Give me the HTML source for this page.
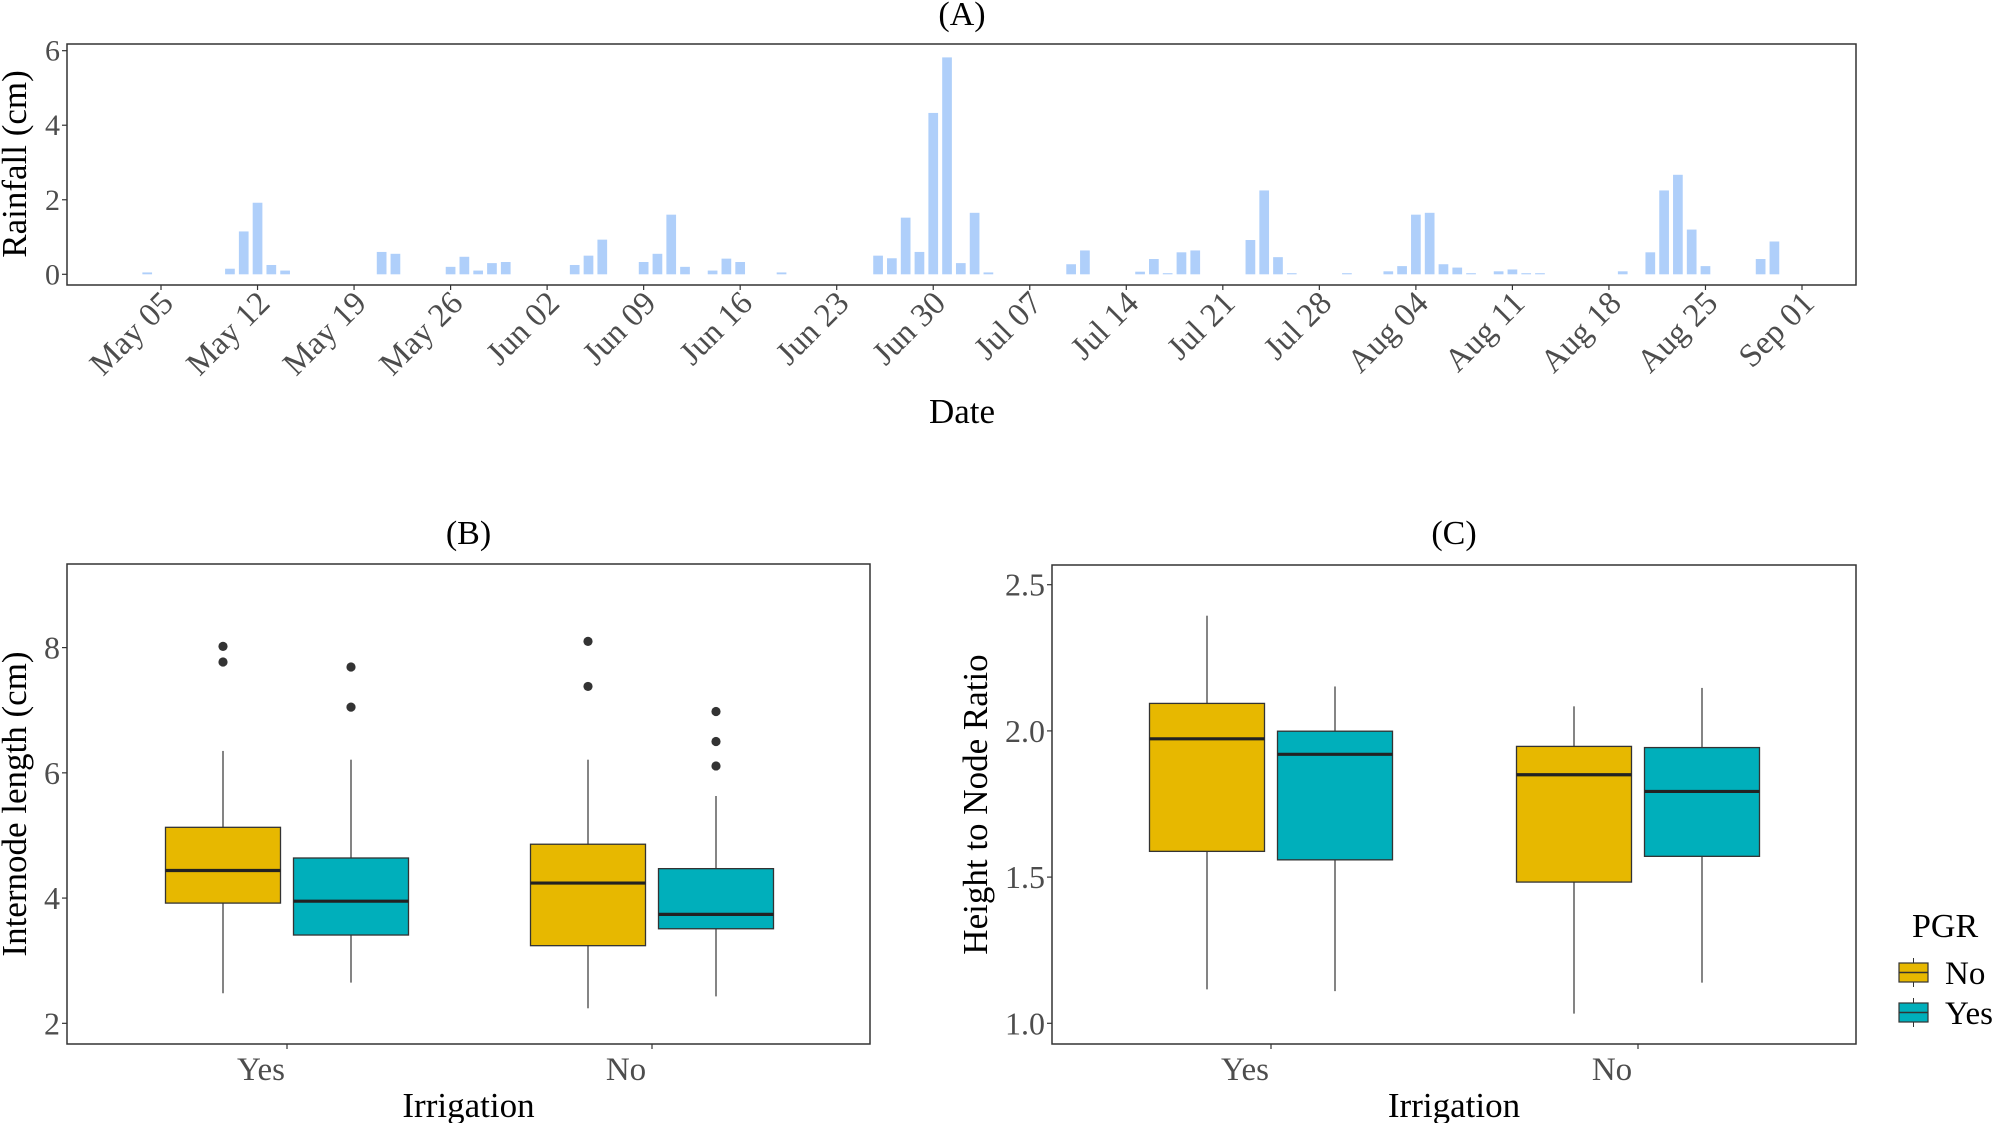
<!DOCTYPE html>
<html><head><meta charset="utf-8"><style>
body{margin:0;background:#fff}
svg{display:block;font-family:"Liberation Serif",serif}
</style></head><body>
<svg id="fig" width="2000" height="1123" viewBox="0 0 2000 1123" xmlns="http://www.w3.org/2000/svg">
<rect width="2000" height="1123" fill="#fff"/>
<g id="pa"></g>
<g id="pb"></g>
<g id="pc"></g>
<g id="leg"></g>
</svg>
<script>
// Panel A data
const rainDates = ["05-04","05-10","05-11","05-12","05-13","05-14","05-21","05-22","05-26","05-27","05-28","05-29","05-30","06-04","06-05","06-06","06-09","06-10","06-11","06-12","06-14","06-15","06-16","06-19","06-26","06-27","06-28","06-29","06-30","07-01","07-02","07-03","07-04","07-10","07-11","07-15","07-16","07-17","07-18","07-19","07-23","07-24","07-25","07-26","07-30","08-02","08-03","08-04","08-05","08-06","08-07","08-08","08-10","08-11","08-12","08-13","08-19","08-21","08-22","08-23","08-24","08-25","08-29","08-30"];
const rainValues = [0.05,0.15,1.15,1.92,0.25,0.1,0.6,0.55,0.2,0.47,0.1,0.3,0.33,0.25,0.5,0.93,0.33,0.55,1.6,0.2,0.1,0.42,0.33,0.05,0.5,0.43,1.52,0.6,4.33,5.82,0.3,1.65,0.05,0.27,0.64,0.07,0.41,0.03,0.59,0.64,0.92,2.25,0.46,0.03,0.03,0.08,0.22,1.6,1.65,0.27,0.18,0.03,0.08,0.13,0.03,0.03,0.08,0.59,2.25,2.67,1.2,0.22,0.41,0.88];
const rainTickLabels = ["May 05","May 12","May 19","May 26","Jun 02","Jun 09","Jun 16","Jun 23","Jun 30","Jul 07","Jul 14","Jul 21","Jul 28","Aug 04","Aug 11","Aug 18","Aug 25","Sep 01"];
const rainYTicks = [0,2,4,6];
// Panel B data (internode length)
const groups = ["Yes","No"];
const pgrLevels = ["No","Yes"];
const bLow = [[2.48,2.65],[2.24,2.43]];
const bQ1 = [[3.92,3.41],[3.24,3.51]];
const bMed = [[4.44,3.95],[4.24,3.74]];
const bQ3 = [[5.13,4.64],[4.86,4.47]];
const bHigh = [[6.35,6.21],[6.21,5.63]];
const bOut = [[[8.02,7.77],[7.69,7.05]],[[8.1,7.38],[6.98,6.5,6.11]]];
const bYTicks = [2,4,6,8];
// Panel C data (height to node ratio)
const cLow = [[1.116,1.110],[1.033,1.139]];
const cQ1 = [[1.588,1.559],[1.483,1.571]];
const cMed = [[1.973,1.920],[1.850,1.793]];
const cQ3 = [[2.094,1.999],[1.947,1.943]];
const cHigh = [[2.394,2.152],[2.084,2.147]];
const cYTicks = ["1.0","1.5","2.0","2.5"];

const NS="http://www.w3.org/2000/svg";
const colors=["#E7B800","#00AFBB"];
function mk(parent,tag,attrs,text){const e=document.createElementNS(NS,tag);for(const k in attrs)e.setAttribute(k,attrs[k]);if(text!==undefined)e.textContent=text;parent.appendChild(e);return e;}

// ---------- Panel A ----------
const pa=document.getElementById('pa');
const A={l:67,r:1856,t:44,b:285};
const dayPx=(1802-161)/119;
function dayOf(s){const p=s.split('-');const d=new Date(Date.UTC(2020,+p[0]-1,+p[1]));return (d-Date.UTC(2020,4,5))/86400000;}
const ax=d=>161+d*dayPx;
const ay=v=>274.3-v*37.27;
rainValues.forEach((v,i)=>{
  const x=ax(dayOf(rainDates[i]));
  const r=mk(pa,'rect',{x:x-4.85,y:ay(v),width:9.7,height:Math.max(ay(0)-ay(v),0.5),fill:'#AFCFFA'});
  
  
});
mk(pa,'rect',{x:A.l,y:A.t,width:A.r-A.l,height:A.b-A.t,fill:'none',stroke:'#333','stroke-width':1.5});
rainYTicks.forEach(v=>{
  const y=ay(v);
  mk(pa,'line',{x1:A.l-5,x2:A.l,y1:y,y2:y,stroke:'#333','stroke-width':1.2});
  const t=mk(pa,'text',{x:A.l-7,y:y+10,'text-anchor':'end','font-size':30,fill:'#4d4d4d'},v);
  
  
});
rainTickLabels.forEach((lab,i)=>{
  const x=ax(i*7);
  mk(pa,'line',{x1:x,x2:x,y1:A.b,y2:A.b+5,stroke:'#333','stroke-width':1.2});
  const t=mk(pa,'text',{x:x+14,y:A.b+20,'text-anchor':'end','font-size':33,fill:'#4d4d4d',transform:`rotate(-45 ${x+14} ${A.b+20})`},lab);
  
  
});
let t;
t=mk(pa,'text',{x:962,y:25,'text-anchor':'middle','font-size':34,fill:'#000'},'(A)');

t=mk(pa,'text',{x:962,y:423,'text-anchor':'middle','font-size':35,fill:'#000'},'Date');

t=mk(pa,'text',{x:0,y:0,'text-anchor':'middle','font-size':35,fill:'#000',transform:'translate(26 164) rotate(-90)'},'Rainfall (cm)');


// ---------- Box panels ----------
function boxPanel(g,P,yf,ticks,lo,q1,md,q3,hi,outs,title,ylab,ylabX){
  mk(g,'rect',{x:P.l,y:P.t,width:P.r-P.l,height:P.b-P.t,fill:'#fff',stroke:'#333','stroke-width':1.5});
  groups.forEach((gname,gi)=>{
    const cx=P.xt[gi];
    pgrLevels.forEach((p,pi)=>{
      const c=cx+(pi===0?-64:64);
      mk(g,'line',{x1:c,x2:c,y1:yf(hi[gi][pi]),y2:yf(q3[gi][pi]),stroke:'#333','stroke-width':1.2});
      mk(g,'line',{x1:c,x2:c,y1:yf(q1[gi][pi]),y2:yf(lo[gi][pi]),stroke:'#333','stroke-width':1.2});
      const b=mk(g,'rect',{x:c-57.5,y:yf(q3[gi][pi]),width:115,height:yf(q1[gi][pi])-yf(q3[gi][pi]),fill:colors[pi],stroke:'#333','stroke-width':1.3});
      
      
      mk(g,'line',{x1:c-57.5,x2:c+57.5,y1:yf(md[gi][pi]),y2:yf(md[gi][pi]),stroke:'#222','stroke-width':3.2});
      if(outs) outs[gi][pi].forEach(v=>{
        const o=mk(g,'circle',{cx:c,cy:yf(v),r:4.6,fill:'#333'});
        
        
      });
    });
    mk(g,'line',{x1:cx,x2:cx,y1:P.b,y2:P.b+5,stroke:'#333','stroke-width':1.2});
    const tl=mk(g,'text',{x:cx-26,y:1080,'text-anchor':'middle','font-size':33,fill:'#4d4d4d'},gname);
    
    
  });
  ticks.forEach(v=>{
    const y=yf(parseFloat(v));
    mk(g,'line',{x1:P.l-5,x2:P.l,y1:y,y2:y,stroke:'#333','stroke-width':1.2});
    const tl=mk(g,'text',{x:P.l-7,y:y+11,'text-anchor':'end','font-size':32,fill:'#4d4d4d'},v);
    
    
  });
  const cxm=(P.l+P.r)/2;
  let e=mk(g,'text',{x:cxm,y:544,'text-anchor':'middle','font-size':34,fill:'#000'},title);
  
  e=mk(g,'text',{x:cxm,y:1117,'text-anchor':'middle','font-size':35,fill:'#000'},'Irrigation');
  
  const cy=(P.t+P.b)/2;
  e=mk(g,'text',{x:0,y:0,'text-anchor':'middle','font-size':35,fill:'#000',transform:`translate(${ylabX} ${cy}) rotate(-90)`},ylab);
  
}
const PB={l:67,r:870,t:564,b:1044,xt:[287,652]};
boxPanel(document.getElementById('pb'),PB,v=>647.6+(8-v)*62.62,bYTicks,bLow,bQ1,bMed,bQ3,bHigh,bOut,'(B)','Internode length (cm)',26);
const PC={l:1052,r:1856,t:565,b:1044,xt:[1271,1638]};
boxPanel(document.getElementById('pc'),PC,v=>584.7+(2.5-v)*292.4,cYTicks,cLow,cQ1,cMed,cQ3,cHigh,null,'(C)','Height to Node Ratio',987);

// ---------- Legend ----------
const lg=document.getElementById('leg');
t=mk(lg,'text',{x:1912,y:937,'font-size':34,fill:'#000'},'PGR');

pgrLevels.forEach((p,i)=>{
  const y0=963+i*40;
  mk(lg,'line',{x1:1913.5,x2:1913.5,y1:y0-5,y2:y0+24,stroke:'#333','stroke-width':1});
  const k=mk(lg,'rect',{x:1899,y:y0,width:29,height:19,fill:colors[i],stroke:'#333','stroke-width':1.2});
  
  
  mk(lg,'line',{x1:1899,x2:1928,y1:y0+9.5,y2:y0+9.5,stroke:'#333','stroke-width':1.5});
  const l=mk(lg,'text',{x:1945,y:y0+21,'font-size':33,fill:'#000'},p);
  
  
});
</script>
</body></html>
